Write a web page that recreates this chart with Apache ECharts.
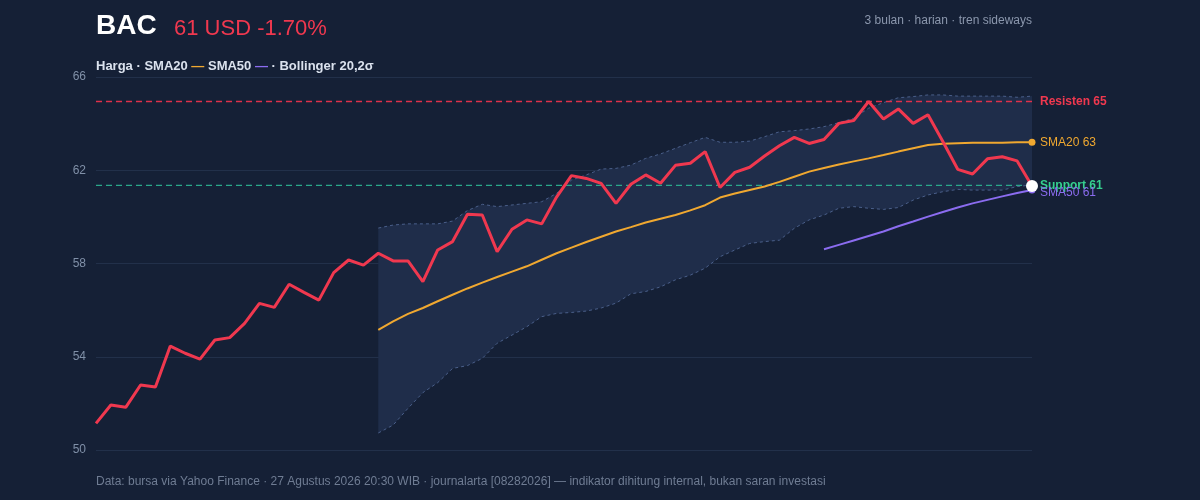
<!DOCTYPE html>
<html><head><meta charset="utf-8">
<script src="https://cdn.jsdelivr.net/npm/echarts@6/dist/echarts.min.js"></script>
<style>html,body{margin:0;background:#152036}#c{width:1200px;height:500px}</style>
</head><body><div id="c"></div>
<script>
const price=[51.14,51.93,51.83,52.79,52.70,54.46,54.15,53.90,54.72,54.82,55.43,56.29,56.12,57.11,56.76,56.43,57.61,58.15,57.93,58.44,58.11,58.11,57.22,58.58,58.94,60.11,60.08,58.51,59.47,59.87,59.70,60.85,61.77,61.65,61.44,60.58,61.40,61.80,61.44,62.21,62.30,62.80,61.26,61.91,62.13,62.61,63.05,63.41,63.15,63.32,64.01,64.13,64.95,64.20,64.63,64.01,64.38,63.23,62.04,61.84,62.49,62.58,62.40,61.32];
const sma20=[55.15,55.52,55.84,56.09,56.38,56.66,56.93,57.18,57.42,57.65,57.88,58.16,58.44,58.68,58.92,59.15,59.37,59.56,59.76,59.92,60.08,60.28,60.50,60.83,61.00,61.15,61.30,61.50,61.72,61.94,62.10,62.25,62.38,62.51,62.65,62.80,62.94,63.08,63.14,63.16,63.18,63.18,63.18,63.20,63.20];
const sma50=[58.61,58.80,58.99,59.18,59.37,59.60,59.80,60.01,60.21,60.40,60.58,60.73,60.88,61.02,61.15];
const bbUpper=[59.52,59.65,59.70,59.70,59.70,59.82,60.27,60.54,60.44,60.51,60.58,60.65,61.01,61.58,61.80,62.05,62.08,62.22,62.51,62.70,62.94,63.18,63.41,63.20,63.20,63.25,63.44,63.65,63.70,63.77,63.87,64.04,64.23,64.66,64.90,65.11,65.16,65.23,65.23,65.18,65.18,65.18,65.18,65.13,65.18];
const bbLower=[50.73,51.07,51.79,52.46,52.89,53.50,53.62,53.93,54.58,54.93,55.29,55.72,55.86,55.90,55.96,56.09,56.30,56.70,56.80,57.00,57.30,57.50,57.80,58.29,58.58,58.86,58.94,59.00,59.51,59.87,60.08,60.37,60.44,60.37,60.32,60.40,60.72,60.94,61.08,61.18,61.15,61.15,61.15,61.30,61.37];
const support=61.35, resistance=64.95;
const n=price.length;
const cats=price.map((_,i)=>i);
const pad=(arr,start)=>cats.map(i=>i<start?null:arr[i-start]);
const s20=pad(sma20,n-sma20.length), s50=pad(sma50,n-sma50.length);
const up=pad(bbUpper,n-bbUpper.length), lo=pad(bbLower,n-bbLower.length);
const diff=up.map((v,i)=>v==null?null:+(v-lo[i]).toFixed(2));
const chart=echarts.init(document.getElementById('c'));
const F='"Liberation Sans",Arial,sans-serif';
const hline=(val,col,txt,tcol,dy)=>({type:'line',data:cats.map(()=>val),symbol:'none',z:2,
  lineStyle:{color:col,type:[6,4],width:1.3},
  endLabel:{show:true,formatter:txt,color:tcol,fontWeight:'bold',fontSize:12,distance:8,fontFamily:F,offset:[0,dy]}});
chart.setOption({
 backgroundColor:'#152036',animation:false,
 textStyle:{fontFamily:F},
 grid:{left:96,right:168,top:77,bottom:50},
 xAxis:{type:'category',data:cats,boundaryGap:false,show:false},
 yAxis:{type:'value',min:50,max:66,interval:4,axisLine:{show:false},axisTick:{show:false},
  axisLabel:{color:'#8090a8',fontSize:12,margin:10,fontFamily:F},
  splitLine:{lineStyle:{color:'#22304a',width:1}}},
 graphic:[
  {type:'text',left:96,top:12,style:{text:'BAC',fill:'#ffffff',font:'bold 28px '+F}},
  {type:'text',left:174,top:18,style:{text:'61 USD -1.70%',fill:'#f0384f',font:'22px '+F}},
  {type:'text',right:168,top:15,style:{text:'3 bulan · harian · tren sideways',fill:'#8b97ad',font:'12px '+F,textAlign:'right'}},
  {type:'text',left:96,top:60,style:{text:'{a|Harga · SMA20 }{o|—}{a| SMA50 }{p|—}{a| · Bollinger 20,2σ}',rich:{a:{fill:'#dbe2ee',font:'bold 13px '+F},o:{fill:'#f0a830',font:'bold 13px '+F},p:{fill:'#8b6cf0',font:'bold 13px '+F}}}},
  {type:'text',left:96,top:476,style:{text:'Data: bursa via Yahoo Finance · 27 Agustus 2026 20:30 WIB · journalarta [08282026] — indikator dihitung internal, bukan saran investasi',fill:'#6f7c93',font:'12px '+F}}
 ],
 series:[
  {type:'line',data:lo,stack:'bb',symbol:'none',lineStyle:{color:'#4a5f8a',width:1,type:[3,3]},areaStyle:{opacity:0},z:1},
  {type:'line',data:diff,stack:'bb',symbol:'none',lineStyle:{opacity:0},areaStyle:{color:'#1f2d4a',opacity:1},z:1},
  {type:'line',data:up,symbol:'none',lineStyle:{color:'#4a5f8a',width:1,type:[3,3]},z:2},
  hline(resistance,'#e0304a','Resisten 65','#f0384f',0),
  hline(support,'#2aa88a','Support 61','#35d08f',0),
  {type:'line',data:s50,symbol:'none',lineStyle:{color:'#8b6cf0',width:2},z:3,
   endLabel:{show:true,formatter:'SMA50 61',color:'#8b6cf0',fontSize:12,offset:[0,3]}},
  {type:'line',data:s20,symbol:'none',lineStyle:{color:'#f0a830',width:2},z:3,
   endLabel:{show:true,formatter:'SMA20 63',color:'#f0a830',fontSize:12,offset:[0,0]}},
  {type:'line',data:price,symbol:'none',lineStyle:{color:'#f0384f',width:3},z:5},
  {type:'scatter',data:[[n-1,sma50[sma50.length-1]]],symbolSize:7,itemStyle:{color:'#8b6cf0',opacity:1},z:4},
  {type:'scatter',data:[[n-1,sma20[sma20.length-1]]],symbolSize:7,itemStyle:{color:'#f0a830',opacity:1},z:4},
  {type:'scatter',data:[[n-1,price[n-1]]],symbolSize:12,itemStyle:{color:'#ffffff',opacity:1},z:6}
 ]
});
</script></body></html>
